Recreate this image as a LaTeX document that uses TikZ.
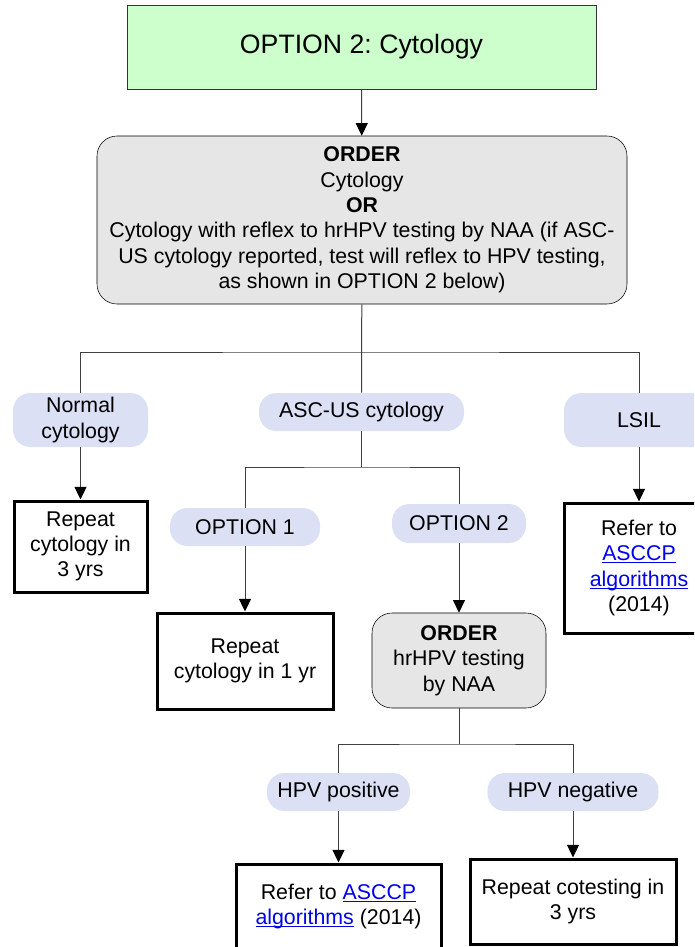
\documentclass[tikz,border=0pt]{standalone}
\usepackage{fontspec}
\setmainfont{Liberation Sans}
\usetikzlibrary{arrows.meta}
\frenchspacing

\definecolor{titlegreen}{HTML}{CCFFCC}
\definecolor{ordergrey}{HTML}{E6E6E6}
\definecolor{pillblue}{HTML}{DCE0F4}
\definecolor{linkblue}{HTML}{0000EE}

\newcommand{\reflink}[1]{\textcolor{linkblue}{\underline{\smash{#1}}}}

\begin{document}
\begin{tikzpicture}[x=0.75pt,y=-0.75pt,
  every node/.style={font=\fontsize{16}{19}\selectfont,align=center,inner sep=0pt},
  titlebox/.style={draw=black!80,fill=titlegreen,font=\fontsize{20}{24}\selectfont},
  orderbox/.style={draw,fill=ordergrey,rounded corners=15pt},
  pill/.style={fill=pillblue,rounded corners=13pt},
  result/.style={draw,line width=2.25pt},
  link/.style={draw=black!75,line width=0.75pt},
  arrow/.style={link,-{Triangle[length=9.5pt,width=9pt,color=black]}}]
\useasboundingbox (0,0) rectangle (694,947);
\clip (0,0) rectangle (694,947);
\fill[white] (0,0) rectangle (694,947);

% top of the chart
\node [titlebox,minimum width=351.75pt,minimum height=63pt] (title) at (361.5,47) {OPTION 2: Cytology};
\node [orderbox,minimum width=397.5pt,minimum height=126pt] (order) at (362,220)
  {\textbf{ORDER}\\Cytology\\\textbf{OR}\\Cytology with reflex to hrHPV testing by NAA (if ASC-\\US cytology reported, test will reflex to HPV testing,\\as shown in OPTION 2 below)};

% cytology results
\node [pill,minimum width=101.25pt,minimum height=40.5pt] (normal) at (80.5,420) {Normal\\cytology};
\node [pill,minimum width=153.75pt,minimum height=28.5pt] (ascus) at (361.5,412) {ASC-US cytology};
\node [pill,minimum width=112.5pt,minimum height=40.5pt] (lsil) at (639,420) {LSIL};
\node [result,minimum width=99.75pt,minimum height=68.25pt] (rep3) at (80.5,546.5) {Repeat\\cytology in\\3 yrs};
\node [result,minimum width=112.5pt,minimum height=97.5pt] (lsilref) at (639,568)
  {Refer to\\\reflink{ASCCP}\\\reflink{algorithms}\\(2014)};

% ASC-US options
\node [pill,minimum width=112.5pt,minimum height=28.5pt] (opt1) at (245,527) {OPTION 1};
\node [pill,minimum width=100.5pt,minimum height=29.25pt] (opt2) at (459,523.5) {OPTION 2};
\node [result,minimum width=132pt,minimum height=72pt] (rep1) at (245,661) {Repeat\\cytology in 1 yr};
\node [orderbox,minimum width=130.5pt,minimum height=71.25pt] (hrhpv) at (459,660.5)
  {\textbf{ORDER}\\hrHPV testing\\by NAA};

% HPV results
\node [pill,minimum width=107.25pt,minimum height=28.5pt] (hpvpos) at (338.5,792) {HPV positive};
\node [pill,minimum width=128.25pt,minimum height=28.5pt] (hpvneg) at (573,792) {HPV negative};
\node [result,minimum width=153.75pt,minimum height=63.75pt] (posref) at (338.5,906.5)
  {Refer to \reflink{ASCCP}\\\reflink{algorithms} (2014)};
\node [result,minimum width=154.5pt,minimum height=63.75pt] (reptest) at (573,901.5)
  {Repeat cotesting in\\3 yrs};

\coordinate (bus) at (362,352);
\coordinate (asbus) at (361.5,467);
\coordinate (hpbus) at (459,744);

% connectors
\draw [arrow] (title) -- (order);
\draw [link] (order) -- (ascus);
\draw [link] (normal) |- (bus) -| (lsil);
\draw [arrow] (normal) -- (rep3);
\draw [arrow] (lsil) -- (lsilref);
\draw [link] (ascus) -- (asbus);
\draw [link] (opt1) |- (asbus) -| (opt2);
\draw [arrow] (opt1) -- (rep1);
\draw [arrow] (opt2) -- (hrhpv);
\draw [link] (hrhpv) -- (hpbus);
\draw [link] (hpvpos) |- (hpbus) -| (hpvneg);
\draw [arrow] (hpvpos) -- (posref);
\draw [arrow] (hpvneg) -- (reptest);
\end{tikzpicture}
\end{document}
